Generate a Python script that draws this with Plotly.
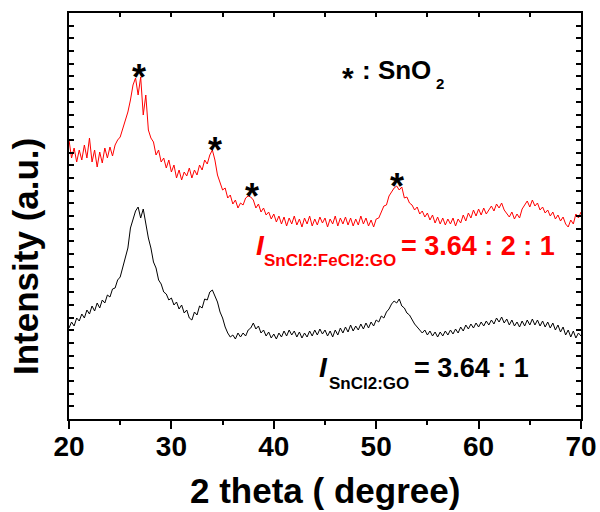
import numpy as np
import plotly.graph_objects as go

# ---------------- data ----------------
two_theta = np.round(np.arange(20.0, 70.001, 0.25), 2)

red_counts = [
    279, 261, 271, 257,  269, 259, 274, 261,  281, 257, 269, 252,  267, 256, 271, 261,
    272, 263, 274, 279,  282, 291, 299, 307,  319, 334, 341, 324,  342, 304, 324, 289,
    281, 277, 264, 269,  257, 261, 251, 259,  247, 254, 241, 249,  239, 247, 243, 251,
    241, 249, 244, 254,  249, 259, 255, 264,  269, 259, 244, 237,  229, 231, 221, 224,
    215, 219, 211, 216,  214, 221, 223, 222,  219, 211, 215, 207,  211, 204, 207, 200,
    205, 197, 203, 195,  202, 193, 201, 195,  203, 194, 200, 192,  201, 195, 203, 193,
    200, 194, 202, 196,  201, 192, 200, 195,  203, 193, 201, 195,  202, 194, 201, 193,
    200, 194, 203, 195,  201, 193, 199, 192,  200, 201, 207, 213,  214, 223, 227, 231,
    233, 229, 232, 221,  222, 216, 214, 209,  212, 205, 208, 202,  206, 199, 204, 196,
    202, 195, 201, 194,  200, 195, 201, 193,  200, 196, 204, 198,  206, 201, 209, 203,
    210, 204, 211, 205,  209, 213, 208, 215,  211, 216, 209, 206,  202, 207, 200, 205,
    201, 210, 214, 218,  212, 219, 213, 216,  209, 212, 206, 209,  203, 207, 200, 204,
    198, 202, 195, 192,  199, 195, 205, 201,  207,
]

black_counts = [
    91, 97, 93, 101,  98, 105, 101, 109,  105, 113, 108, 116,  111, 119, 116, 124,
    122, 130, 131, 139,  142, 151, 161, 171,  191, 199, 208, 212,  201, 210, 194, 181,
    171, 157, 151, 139,  135, 127, 125, 119,  121, 114, 117, 110,  114, 106, 109, 101,
    99, 107, 104, 113,  111, 120, 119, 127,  129, 123, 117, 107,  101, 92, 86, 82,
    84, 80, 86, 82,  86, 83, 89, 91,  96, 90, 93, 86,  89, 83, 87, 81,
    85, 80, 86, 82,  88, 83, 89, 84,  88, 82, 87, 81,  86, 82, 88, 83,
    89, 84, 90, 85,  89, 83, 88, 82,  89, 84, 91, 86,  92, 87, 94, 88,
    93, 89, 95, 90,  96, 91, 97, 93,  99, 97, 103, 101,  107, 110, 115, 118,
    116, 120, 113, 111,  106, 104, 99, 95,  92, 89, 86, 89,  84, 88, 83, 87,
    82, 87, 83, 88,  84, 89, 85, 90,  86, 92, 88, 94,  90, 95, 91, 96,
    92, 97, 93, 98,  94, 99, 95, 101,  97, 102, 96, 100,  94, 99, 93, 97,
    92, 98, 93, 99,  94, 100, 94, 99,  93, 98, 92, 97,  91, 96, 89, 94,
    87, 92, 84, 89,  82, 88, 81, 86,  83,
]

sno2_peaks = [26.8, 34.3, 37.9, 52.0]

x_ticks = [20, 30, 40, 50, 60, 70]

# ---------------- figure ----------------
FONT = "Liberation Sans, Arial, sans-serif"
L, R, T, B = 69, 581, 13, 419
W, H = R - L, B - T
YMAX = 406


def px(xp):
    return (xp - L) / W


def py(yp):
    return (B - yp) / H


fig = go.Figure()
fig.add_trace(go.Scatter(x=two_theta, y=red_counts, mode="lines",
                         line=dict(color="#ff0000", width=1), showlegend=False))
fig.add_trace(go.Scatter(x=two_theta, y=black_counts, mode="lines",
                         line=dict(color="#000000", width=1), showlegend=False))
# helper trace so the mirrored (top/right) axes are drawn
fig.add_trace(go.Scatter(x=[20], y=[0], xaxis="x2", yaxis="y2", mode="markers",
                         marker=dict(opacity=0), showlegend=False, hoverinfo="skip"))

red_arr = np.array(red_counts)
ann = []
for p in sno2_peaks:
    m = red_arr[np.abs(two_theta - p) <= 0.4].max()
    ann.append(dict(x=p, y=m + 8, xref="x", yref="y", text="*", showarrow=False,
                    font=dict(family=FONT, size=36, color="black", weight="bold"),
                    xanchor="center", yanchor="middle", yshift=-8))

def txt(text, xl, yc, size, color="black", italic=False):
    return dict(x=px(xl), y=py(yc), xref="paper", yref="paper", text=text,
                showarrow=False, xanchor="left", yanchor="middle",
                font=dict(family=FONT, size=size, color=color, weight="bold",
                          style="italic" if italic else "normal"))

# legend "* : SnO2"
ann.append(dict(x=px(348), y=py(70), xref="paper", yref="paper", text="*",
                showarrow=False, xanchor="center", yanchor="middle", yshift=-7,
                font=dict(family=FONT, size=30, color="black", weight="bold")))
ann.append(txt(": SnO", 360, 70, 26))
ann.append(txt("2", 434, 83, 15))

# red label
ann.append(txt("I", 254, 245, 28, "#ff0000", italic=True))
ann.append(txt("SnCl2:FeCl2:GO", 262, 260, 17, "#ff0000"))
ann.append(txt("= 3.64 : 2 : 1", 399, 246, 27, "#ff0000"))
# black label
ann.append(txt("I", 317, 367, 28, "black", italic=True))
ann.append(txt("SnCl2:GO", 327, 383, 17, "black"))
ann.append(txt("= 3.64 : 1", 412, 368, 27, "black"))

# axis titles
ann.append(dict(x=px(25), y=py(257), xref="paper", yref="paper",
                text="Intensity (a.u.)", textangle=-90, showarrow=False,
                xanchor="center", yanchor="middle",
                font=dict(family=FONT, size=35, color="black", weight="bold")))
ann.append(dict(x=px(325), y=py(490), xref="paper", yref="paper",
                text="2 theta ( degree)", showarrow=False,
                xanchor="center", yanchor="middle",
                font=dict(family=FONT, size=35, color="black", weight="bold")))

fig.update_layout(
    width=600, height=512,
    margin=dict(l=L, r=600 - R, t=T, b=512 - B, pad=0, autoexpand=False),
    paper_bgcolor="white", plot_bgcolor="white",
    showlegend=False,
    annotations=ann,
    xaxis=dict(range=[20, 70], tickvals=x_ticks, ticktext=[str(v) for v in x_ticks],
               ticks="outside", ticklen=8, tickwidth=2, tickcolor="black",
               ticklabelstandoff=-7,
               minor=dict(dtick=5, tick0=20, ticks="outside", ticklen=4,
                          tickwidth=2, tickcolor="black", showgrid=False),
               showline=True, linewidth=2, linecolor="black", showgrid=False,
               zeroline=False,
               tickfont=dict(family=FONT, size=28, color="black", weight="bold")),
    yaxis=dict(range=[0, YMAX], tick0=0, dtick=YMAX / 32, showticklabels=False,
               ticks="inside", ticklen=5, tickwidth=1.5, tickcolor="black",
               showline=True, linewidth=2, linecolor="black", showgrid=False,
               zeroline=False),
    xaxis2=dict(range=[20, 70], overlaying="x", side="top", anchor="y",
                tick0=20, dtick=5, ticks="inside", ticklen=4, tickwidth=1.5,
                tickcolor="black", showticklabels=False, showline=True,
                linewidth=2, linecolor="black", showgrid=False, zeroline=False),
    yaxis2=dict(range=[0, YMAX], overlaying="y", side="right", anchor="x",
                tick0=0, dtick=YMAX / 32, ticks="inside", ticklen=5, tickwidth=1.5,
                tickcolor="black", showticklabels=False, showline=True,
                linewidth=2, linecolor="black", showgrid=False, zeroline=False),
)

fig.write_html(
    "out.html",
    config={"displayModeBar": False},
    post_script="document.body.style.margin='0';document.body.style.overflow='hidden';",
)
